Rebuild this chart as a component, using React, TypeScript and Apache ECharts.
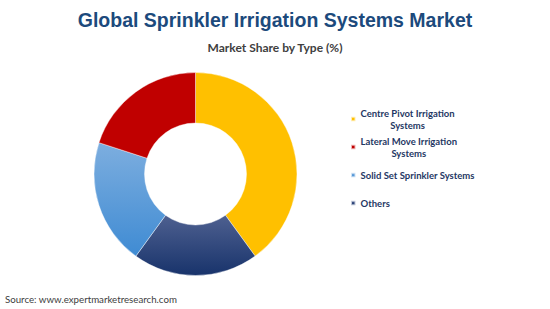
import React, { useEffect, useRef } from "react";
import * as echarts from "echarts";

const titleText = "Global Sprinkler Irrigation Systems Market";
const subtitleText = "Market Share by Type (%)";
const sourceText = "Source: www.expertmarketresearch.com";

const categories = [
  "Centre Pivot Irrigation Systems",
  "Lateral Move Irrigation Systems",
  "Solid Set Sprinkler Systems",
  "Others",
];
const legendLines = [
  ["Centre Pivot Irrigation", "Systems"],
  ["Lateral Move Irrigation", "Systems"],
  ["Solid Set Sprinkler Systems"],
  ["Others"],
];
const shares = [40, 20, 20, 20];
// clockwise order of slices starting at 12 o'clock
const sliceOrder = [0, 3, 2, 1];

const colors: any[] = [
  "#FFC000",
  "#C00000",
  {
    type: "linear", x: 0, y: 0, x2: 0, y2: 1,
    colorStops: [
      { offset: 0, color: "#7DAEDF" },
      { offset: 1, color: "#3F8BD3" },
    ],
  },
  {
    type: "linear", x: 0, y: 0, x2: 0, y2: 1,
    colorStops: [
      { offset: 0, color: "#4E6090" },
      { offset: 1, color: "#18336B" },
    ],
  },
];

export default function App() {
  const ref = useRef<HTMLDivElement>(null);
  useEffect(() => {
    if (!ref.current) return;
    const chart = echarts.init(ref.current, undefined, { renderer: "svg" });
    const legendFont = { fontFamily: "Lato", fontWeight: "bold", fontSize: 9.5, color: "#1F3864" };
    const option: any = {
      animation: false,
      backgroundColor: "#ffffff",
      title: [
        {
          text: titleText,
          left: "center",
          top: 10,
          padding: 0,
          textStyle: {
            fontFamily: "Liberation Sans",
            fontWeight: "bold",
            fontSize: 19.5,
            color: "#1C4A7C",
          },
        },
        {
          text: subtitleText,
          left: "center",
          top: 41,
          padding: 0,
          textStyle: {
            fontFamily: "Lato",
            fontWeight: "bold",
            fontSize: 12,
            color: "#404040",
          },
        },
        {
          text: sourceText,
          left: 5,
          top: 294,
          padding: 0,
          textStyle: {
            fontFamily: "Lato",
            fontWeight: "normal",
            fontSize: 9.7,
            color: "#404040",
          },
        },
      ],
      legend: {
        orient: "vertical",
        left: 350,
        top: 107,
        padding: 0,
        itemWidth: 4.5,
        itemHeight: 4.5,
        itemGap: 4,
        icon: "rect",
        selectedMode: false,
        data: categories,
        formatter: (name: string) => {
          const lines = legendLines[categories.indexOf(name)];
          if (lines.length > 1) return lines.map((l) => `{c|${l}}`).join("\n");
          return `{s|${lines[0]}}`;
        },
        textStyle: {
          ...legendFont,
          lineHeight: 12,
          rich: {
            c: { ...legendFont, align: "center", lineHeight: 12 },
            s: { ...legendFont, lineHeight: 24 },
          },
        },
      },
      series: [
        {
          type: "pie",
          center: [195.5, 174],
          radius: [51, 101.5],
          startAngle: 90,
          clockwise: true,
          label: { show: false },
          labelLine: { show: false },
          emphasis: { disabled: true },
          itemStyle: { borderColor: "rgba(255,255,255,0.7)", borderWidth: 0.6 },
          data: sliceOrder.map((i) => ({
            name: categories[i],
            value: shares[i],
            itemStyle: { color: colors[i] },
          })),
        },
      ],
    };
    chart.setOption(option);
    return () => chart.dispose();
  }, []);
  return (
    <div
      ref={ref}
      style={{ position: "fixed", left: 0, top: 0, width: 550, height: 309 }}
    />
  );
}
